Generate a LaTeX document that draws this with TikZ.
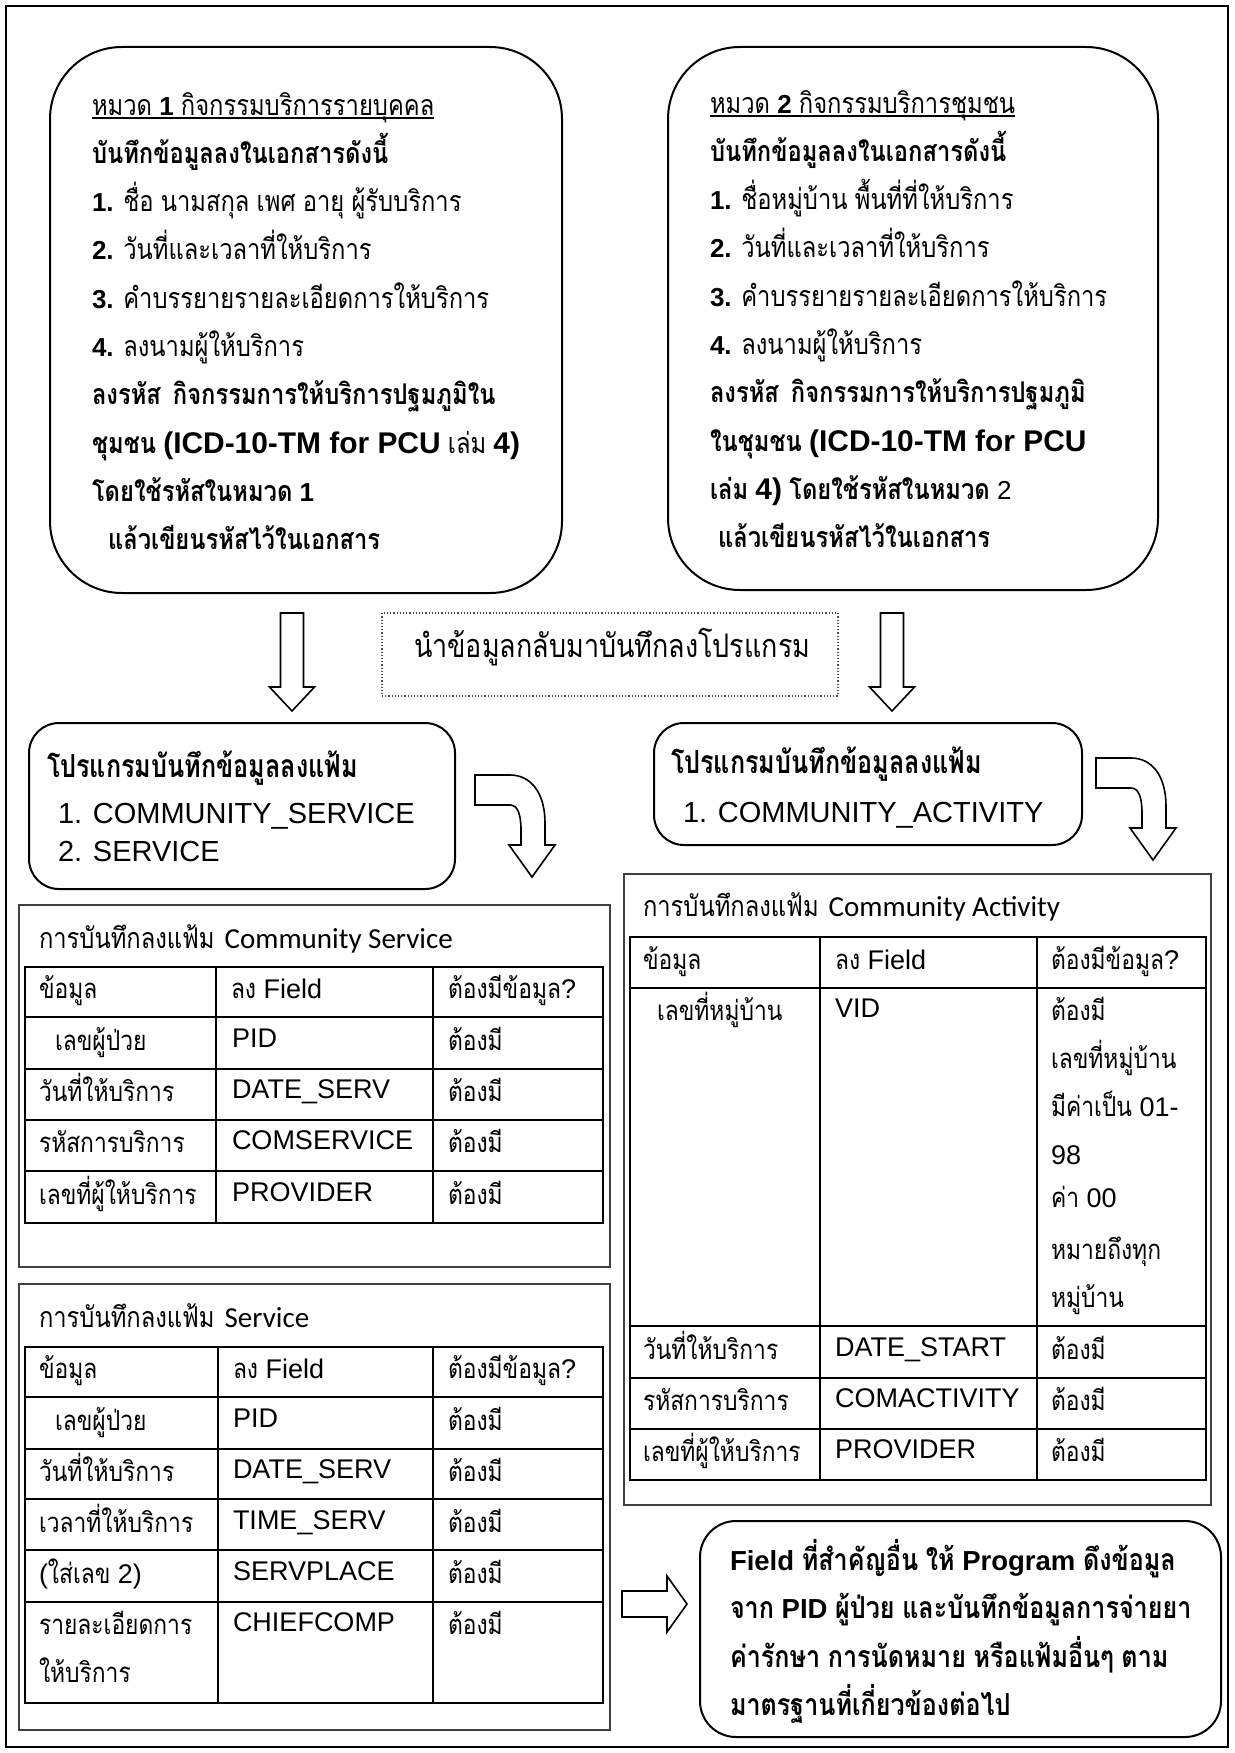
\documentclass[tikz,border=0pt]{standalone}
\usepackage{fontspec}
\usepackage{graphicx}
\setmainfont{Liberation Sans}
\newfontfamily\thaifont[Script=Thai, Scale=1.1, FakeStretch=0.83]{Loma}
\newfontfamily\calfont{Carlito}
\newfontfamily\latB[Scale=1.08]{Liberation Sans}
\newfontfamily\latC[Scale=1.15]{Liberation Sans}
\let\latinfam\rmfamily

% automatic switch between the Latin and the Thai family
\XeTeXinterchartokenstate=1
\newXeTeXintercharclass\ThaiCls
\count255="0E00
\loop\ifnum\count255<"0E80
  \XeTeXcharclass\count255=\ThaiCls
  \advance\count255 by 1
\repeat
\XeTeXinterchartoks 0 \ThaiCls={\thaifont}
\XeTeXinterchartoks 4095 \ThaiCls={\thaifont}
\XeTeXinterchartoks \ThaiCls 0={\latinfam}
\XeTeXinterchartoks \ThaiCls 4095={\latinfam}

\newcommand\fsz[2]{\fontsize{#1}{#2}\selectfont}
\newcommand\lines[1]{\begin{tabular}[t]{@{}l@{}}#1\end{tabular}}
\newcommand\ulin[1]{\setbox0=\hbox{#1}\rlap{\rule[-3.5pt]{\wd0}{1.2pt}}\box0}

\tikzset{
  rbox/.style={draw=black, line width=2pt, inner sep=0pt},
  frame/.style={draw=black!75, line width=2pt},
  grid/.style={draw=black, line width=2.4pt},
  txt/.style={anchor=base west, inner sep=0pt, outer sep=0pt},
  cell/.style={txt, font=\fsz{25}{30}\let\latinfam\latB\latB},
  arrline/.style={draw=black, line width=1.6pt, fill=white, line join=miter},
  downarr/.pic={\path[arrline] (-11.5,0) -- (11.5,0) -- (11.5,74) -- (22.5,74)
      -- (0,98) -- (-22.5,74) -- (-11.5,74) -- cycle;},
  bendarr/.pic={\path[arrline] (0,0) -- (35,0) .. controls (56,0) and (70,18) .. (70,48)
      -- (70,70) -- (80,70) -- (57,102) -- (34,70) -- (46,70) -- (46,55)
      .. controls (46,38) and (42,30) .. (35,30) -- (0,30) -- cycle;},
  rightarr/.pic={\path[arrline] (0,-13) -- (45,-13) -- (45,-28) -- (65,0)
      -- (45,28) -- (45,13) -- (0,13) -- cycle;}
}

\begin{document}
\begin{tikzpicture}[x=1pt,y=-1pt]
\useasboundingbox (0,0) rectangle (1234,1753);
\draw[line width=1.6pt] (6,6) rectangle (1228,1747);

% ---------- top category boxes ----------
\node[rbox, rounded corners=72pt, minimum width=512pt, minimum height=546pt] (box1) at (306,320) {};
\node[txt, font=\fsz{26}{48.3}] (box1txt) at (92,115) {\lines{%
  \ulin{หมวด \textbf{1} กิจกรรมบริการรายบุคคล}\\
  \textbf{บันทึกข้อมูลลงในเอกสารดังนี้}\\
  \textbf{1.} ชื่อ นามสกุล เพศ อายุ ผู้รับบริการ\\
  \textbf{2.} วันที่และเวลาที่ให้บริการ\\
  \textbf{3.} คำบรรยายรายละเอียดการให้บริการ\\
  \textbf{4.} ลงนามผู้ให้บริการ\\
  \textbf{ลงรหัส\hspace{12pt}กิจกรรมการให้บริการปฐมภูมิใน}\\
  \textbf{ชุมชน {\latC (ICD-10-TM for PCU}} เล่ม \textbf{\latC 4)}\\
  \textbf{โดยใช้รหัสในหมวด 1}\\
  \hspace{16pt}\textbf{แล้วเขียนรหัสไว้ในเอกสาร}}};

\node[rbox, rounded corners=72pt, minimum width=490pt, minimum height=543pt] (box2) at (913,318.5) {};
\node[txt, font=\fsz{26}{48.3}] (box2txt) at (710,113) {\lines{%
  \ulin{หมวด \textbf{2} กิจกรรมบริการชุมชน}\\
  \textbf{บันทึกข้อมูลลงในเอกสารดังนี้}\\
  \textbf{1.} ชื่อหมู่บ้าน พื้นที่ที่ให้บริการ\\
  \textbf{2.} วันที่และเวลาที่ให้บริการ\\
  \textbf{3.} คำบรรยายรายละเอียดการให้บริการ\\
  \textbf{4.} ลงนามผู้ให้บริการ\\
  \textbf{ลงรหัส\hspace{12pt}กิจกรรมการให้บริการปฐมภูมิ}\\
  \textbf{ในชุมชน {\latC (ICD-10-TM for PCU}}\\
  \textbf{เล่ม {\latC 4)} โดยใช้รหัสในหมวด} 2\\
  \hspace{8pt}\textbf{แล้วเขียนรหัสไว้ในเอกสาร}}};

% ---------- note and down arrows ----------
\node[draw=black!70, dotted, line width=1.2pt, minimum width=456pt, minimum height=83pt, inner sep=0pt] (note) at (610,654.5) {};
\node[txt, font=\fsz{29.5}{30}] (notetxt) at (414,657) {นำข้อมูลกลับมาบันทึกลงโปรแกรม};
\pic (arrL) at (292,613) {downarr};
\pic (arrR) at (892,613) {downarr};

% ---------- program boxes ----------
\node[rbox, rounded corners=30pt, minimum width=426pt, minimum height=166pt] (prog1) at (242,806) {};
\node[txt, font=\fsz{29}{38}, xscale=0.95] (prog1h) at (47,777) {\textbf{โปรแกรมบันทึกข้อมูลลงแฟ้ม}};
\node[txt, font=\fsz{29}{38}] (prog1l) at (58,823) {\lines{1. COMMUNITY\_SERVICE\\2. SERVICE}};
\pic (bend1) at (475,775) {bendarr};

\node[rbox, rounded corners=30pt, minimum width=428pt, minimum height=122pt] (prog2) at (868,784) {};
\node[txt, font=\fsz{29}{38}, xscale=0.95] (prog2h) at (671,773) {\textbf{โปรแกรมบันทึกข้อมูลลงแฟ้ม}};
\node[txt, font=\fsz{29}{38}] (prog2l) at (683,822) {1. COMMUNITY\_ACTIVITY};
\pic (bend2) at (1096,758) {bendarr};

% ---------- table: Community Service ----------
\draw[frame] (19,905) rectangle (610,1267);
\node[txt, font=\fsz{26}{30}] (tAh) at (39,948) {การบันทึกลงแฟ้ม\hspace{10pt}{\calfont\fsz{29}{30}Community Service}};
\draw[grid] (25,967) rectangle (603,1223);
\foreach \yy in {1017,1069,1120,1171} \draw[grid] (25,\yy) -- (603,\yy);
\foreach \xx in {216,433} \draw[grid] (\xx,967) -- (\xx,1223);
\node[cell] (tA11) at (39,998) {ข้อมูล};
\node[cell] (tA12) at (231,998) {ลง Field};
\node[cell] (tA13) at (448,998) {ต้องมีข้อมูล?};
\node[cell] (tA21) at (55,1050) {เลขผู้ป่วย};
\node[cell] (tA22) at (232,1047) {PID};
\node[cell] (tA23) at (448,1050) {ต้องมี};
\node[cell] (tA31) at (39,1101) {วันที่ให้บริการ};
\node[cell] (tA32) at (232,1098) {DATE\_SERV};
\node[cell] (tA33) at (448,1101) {ต้องมี};
\node[cell] (tA41) at (39,1152) {รหัสการบริการ};
\node[cell] (tA42) at (232,1149) {COMSERVICE};
\node[cell] (tA43) at (448,1152) {ต้องมี};
\node[cell] (tA51) at (39,1204) {เลขที่ผู้ให้บริการ};
\node[cell] (tA52) at (232,1201) {PROVIDER};
\node[cell] (tA53) at (448,1204) {ต้องมี};

% ---------- table: Service ----------
\draw[frame] (19,1284) rectangle (610,1730);
\node[txt, font=\fsz{26}{30}] (tBh) at (39,1327) {การบันทึกลงแฟ้ม\hspace{10pt}{\calfont\fsz{29}{30}Service}};
\draw[grid] (25,1347) rectangle (603,1703);
\foreach \yy in {1397,1449,1499,1550,1602} \draw[grid] (25,\yy) -- (603,\yy);
\foreach \xx in {218,433} \draw[grid] (\xx,1347) -- (\xx,1703);
\node[cell] (tB11) at (39,1378) {ข้อมูล};
\node[cell] (tB12) at (233,1378) {ลง Field};
\node[cell] (tB13) at (448,1378) {ต้องมีข้อมูล?};
\node[cell] (tB21) at (55,1430) {เลขผู้ป่วย};
\node[cell] (tB22) at (233,1427) {PID};
\node[cell] (tB23) at (448,1430) {ต้องมี};
\node[cell] (tB31) at (39,1481) {วันที่ให้บริการ};
\node[cell] (tB32) at (233,1478) {DATE\_SERV};
\node[cell] (tB33) at (448,1481) {ต้องมี};
\node[cell] (tB41) at (39,1532) {เวลาที่ให้บริการ};
\node[cell] (tB42) at (233,1529) {TIME\_SERV};
\node[cell] (tB43) at (448,1532) {ต้องมี};
\node[cell] (tB51) at (39,1583) {(ใส่เลข 2)};
\node[cell] (tB52) at (233,1580) {SERVPLACE};
\node[cell] (tB53) at (448,1583) {ต้องมี};
\node[cell, font=\fsz{25}{48.5}\let\latinfam\latB\latB] (tB61) at (39,1634) {\lines{รายละเอียดการ\\ให้บริการ}};
\node[cell] (tB62) at (233,1631) {CHIEFCOMP};
\node[cell] (tB63) at (448,1634) {ต้องมี};

% ---------- table: Community Activity ----------
\draw[frame] (624,874) rectangle (1211,1505);
\node[txt, font=\fsz{26}{30}] (tCh) at (643,916) {การบันทึกลงแฟ้ม\hspace{10pt}{\calfont\fsz{29}{30}Community Activity}};
\draw[grid] (630,937) rectangle (1206,1480);
\foreach \yy in {988,1326,1378,1429} \draw[grid] (630,\yy) -- (1206,\yy);
\foreach \xx in {820,1037} \draw[grid] (\xx,937) -- (\xx,1480);
\node[cell] (tC11) at (643,969) {ข้อมูล};
\node[cell] (tC12) at (835,969) {ลง Field};
\node[cell] (tC13) at (1051,969) {ต้องมีข้อมูล?};
\node[cell] (tC21) at (657,1020) {เลขที่หมู่บ้าน};
\node[cell] (tC22) at (835,1017) {VID};
\node[cell, font=\fsz{25}{48}\let\latinfam\latB\latB] (tC23) at (1051,1020) {\lines{ต้องมี\\เลขที่หมู่บ้าน\\มีค่าเป็น 01-\\98\\[-5pt]ค่า 00\\[4pt]หมายถึงทุก\\หมู่บ้าน}};
\node[cell] (tC31) at (643,1359) {วันที่ให้บริการ};
\node[cell] (tC32) at (835,1356) {DATE\_START};
\node[cell] (tC33) at (1051,1359) {ต้องมี};
\node[cell] (tC41) at (643,1410) {รหัสการบริการ};
\node[cell] (tC42) at (835,1407) {COMACTIVITY};
\node[cell] (tC43) at (1051,1410) {ต้องมี};
\node[cell] (tC51) at (643,1461) {เลขที่ผู้ให้บริการ};
\node[cell] (tC52) at (835,1458) {PROVIDER};
\node[cell] (tC53) at (1051,1461) {ต้องมี};

% ---------- closing note ----------
\pic (arrF) at (622,1604) {rightarr};
\node[rbox, rounded corners=36pt, minimum width=521pt, minimum height=216pt] (final) at (960.5,1629) {};
\node[txt, font=\fsz{27.5}{48.5}] (finaltxt) at (730,1570) {\lines{%
  \textbf{Field ที่สำคัญอื่น ให้ Program ดึงข้อมูล}\\
  \textbf{จาก PID ผู้ป่วย และบันทึกข้อมูลการจ่ายยา}\\
  \textbf{ค่ารักษา การนัดหมาย หรือแฟ้มอื่นๆ ตาม}\\
  \textbf{มาตรฐานที่เกี่ยวข้องต่อไป}}};
\end{tikzpicture}
\end{document}
